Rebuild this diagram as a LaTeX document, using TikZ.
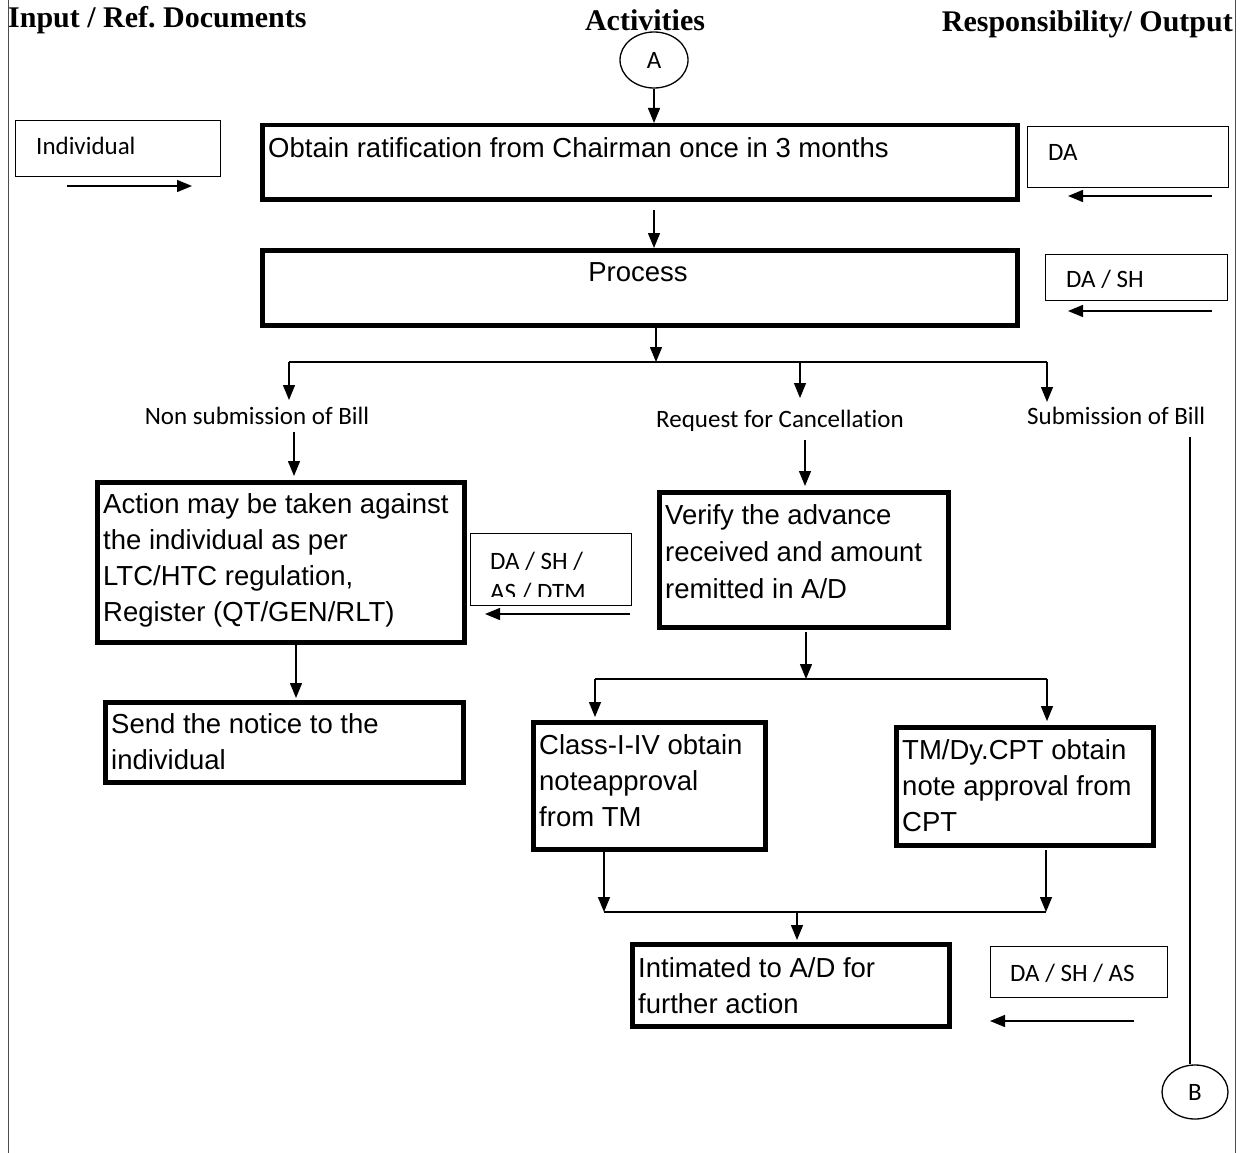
\documentclass[tikz,border=0pt]{standalone}
\usepackage{fontspec}
\setmainfont{Liberation Sans}
\newfontfamily\hdrfont{Liberation Serif}
\newfontfamily\calfont[Ligatures=NoCommon]{Carlito}
\usetikzlibrary{arrows.meta,shapes.geometric}
\frenchspacing
\begin{document}
\begin{tikzpicture}[x=1pt,y=-1pt,
  thickbox/.style={draw,line width=4.5pt,rectangle,inner sep=0pt,anchor=north west},
  thinbox/.style={draw,line width=1.3pt,rectangle,inner sep=0pt,anchor=north west},
  arr/.style={line width=1.4pt,-{Triangle[length=15pt,width=12pt]}},
  plain/.style={line width=1.4pt},
  big/.style={font=\fontsize{27.5}{36}\selectfont,inner sep=0pt,align=left},
  small/.style={font=\calfont\fontsize{25}{31}\selectfont,inner sep=0pt,align=left},
  hdr/.style={font=\hdrfont\bfseries\fontsize{30}{36}\selectfont,inner sep=0pt},
  conn/.style={draw,ellipse,line width=1.3pt,minimum width=68pt,minimum height=56pt,inner sep=0pt,font=\calfont\fontsize{25}{30}\selectfont}]
\useasboundingbox (0,0) rectangle (1252,1153);
% frame lines
\draw[line width=1pt,black!70] (8,0) -- (8,1153);
\draw[line width=1pt,black!70] (1235,0) -- (1235,1153);
% headers
\node[hdr,anchor=base west] (h1) at (8,28) {Input / Ref. Documents};
\node[hdr,anchor=base] (h2) at (645,31) {Activities};
\node[hdr,anchor=base east] (h3) at (1233,32) {Responsibility/ Output};
% connectors A / B
\node[conn] (A) at (654,60) {A};
\node[conn,minimum width=66pt,minimum height=54pt] (B) at (1195,1092) {B};
% thick boxes
\node[thickbox,minimum width=755pt,minimum height=74pt] (b1) at (260,123) {};
\node[thickbox,minimum width=755pt,minimum height=75pt] (b2) at (260,248) {};
\node[thickbox,minimum width=367pt,minimum height=160pt] (b3) at (95,480) {};
\node[thickbox,minimum width=358pt,minimum height=80pt] (b4) at (103,700) {};
\node[thickbox,minimum width=289pt,minimum height=135pt] (b5) at (657,490) {};
\node[thickbox,minimum width=232pt,minimum height=127pt] (b6) at (531,720) {};
\node[thickbox,minimum width=257pt,minimum height=118pt] (b7) at (894,725) {};
\node[thickbox,minimum width=317pt,minimum height=82pt] (b8) at (630,942) {};
% thin boxes
\node[thinbox,minimum width=205pt,minimum height=56pt] (ind) at (15,120) {};
\node[thinbox,minimum width=201pt,minimum height=61pt] (da1) at (1027,126) {};
\node[thinbox,minimum width=182pt,minimum height=46pt] (da2) at (1045,254) {};
\node[thinbox,minimum width=161pt,minimum height=72pt] (da3) at (470,533) {};
\node[thinbox,minimum width=177pt,minimum height=51pt] (da4) at (990,946) {};
% box texts
\node[big,anchor=north west] (t1) at (268,137) {Obtain ratification from Chairman once in 3 months};
\node[big,anchor=center] (t2) at (638,272) {Process};
\node[big,anchor=north west] (t3) at (103,493) {Action may be taken against\\the individual as per\\LTC/HTC regulation,\\Register (QT/GEN/RLT)};
\node[big,anchor=north west] (t4) at (111,713) {Send the notice to the\\individual};
\node[big,anchor=north west,font=\fontsize{27.5}{37}\selectfont] (t5) at (665,504) {Verify the advance\\received and amount\\remitted in A/D};
\node[big,anchor=north west] (t6) at (539,734) {Class-I-IV obtain\\noteapproval\\from TM};
\node[big,anchor=north west] (t7) at (902,739) {TM/Dy.CPT obtain\\note approval from\\CPT};
\node[big,anchor=north west] (t8) at (638,957) {Intimated to A/D for\\further action};
% small texts
\node[small,anchor=base west] (ti) at (36,154) {Individual};
\node[small,anchor=base west] (td1) at (1048,160) {DA};
\node[small,anchor=base west] (td2) at (1066,287) {DA / SH};
\begin{scope}
\clip (470,533) rectangle (631,596);
\node[small,anchor=base west] (td3) at (490,600) {DA / SH /\\AS / DTM};
\end{scope}
\node[small,anchor=base west] (td4) at (1010,981) {DA / SH / AS};
\node[small,anchor=base] (l1) at (257,424) {Non submission of Bill};
\node[small,anchor=base] (l2) at (780,427) {Request for Cancellation};
\node[small,anchor=base west] (l3) at (1027,424) {Submission of Bill};
% responsibility arrows
\coordinate (ia) at (67,186); \coordinate (ib) at (192,186);
\draw[arr] (ia) -- (ib);
\coordinate (d1a) at (1212,196); \coordinate (d1b) at (1068,196);
\draw[arr] (d1a) -- (d1b);
\coordinate (d2a) at (1212,311); \coordinate (d2b) at (1068,311);
\draw[arr] (d2a) -- (d2b);
\coordinate (d3a) at (630,614); \coordinate (d3b) at (485,614);
\draw[arr] (d3a) -- (d3b);
\coordinate (d4a) at (1134,1021); \coordinate (d4b) at (990,1021);
\draw[arr] (d4a) -- (d4b);
% main flow
\draw[arr] (A.south) -- (A.south |- b1.north);
\coordinate (f1) at (654,210);
\draw[arr] (f1) -- (f1 |- b2.north);
\coordinate (f2) at (656,325); \coordinate (s0) at (656,362);
\draw[arr] (f2) -- (s0);
\coordinate (sl) at (289,362); \coordinate (sm) at (800,362); \coordinate (sr) at (1047,362);
\draw[plain] (sl) -- (sr);
\draw[arr] (sl) -- (289,400);
\draw[arr] (sm) -- (800,398);
\draw[arr] (sr) -- (1047,402);
% left branch
\coordinate (g1) at (294,432);
\draw[arr] (g1) -- (294,476);
\coordinate (g2) at (296,642);
\draw[arr] (g2) -- (296,698);
% middle branch
\coordinate (m1) at (805,440);
\draw[arr] (m1) -- (805,486);
\coordinate (m2) at (806,632); \coordinate (m3) at (806,679);
\draw[arr] (m2) -- (m3);
\coordinate (ml) at (595,679); \coordinate (mr) at (1047,679);
\draw[plain] (ml) -- (mr);
\draw[arr] (ml) -- (595,717);
\draw[arr] (mr) -- (1047,721);
\coordinate (j1) at (604,850); \coordinate (j1b) at (604,912);
\coordinate (j2) at (1046,850); \coordinate (j2b) at (1046,912);
\draw[arr] (j1) -- (j1b);
\draw[arr] (j2) -- (j2b);
\draw[plain] (j1b) -- (j2b);
\coordinate (j3) at (797,912);
\draw[arr] (j3) -- (797,940);
% right branch
\coordinate (r1) at (1190,437);
\draw[line width=1.3pt] (r1) -- (r1 |- B.north);
\end{tikzpicture}
\end{document}
